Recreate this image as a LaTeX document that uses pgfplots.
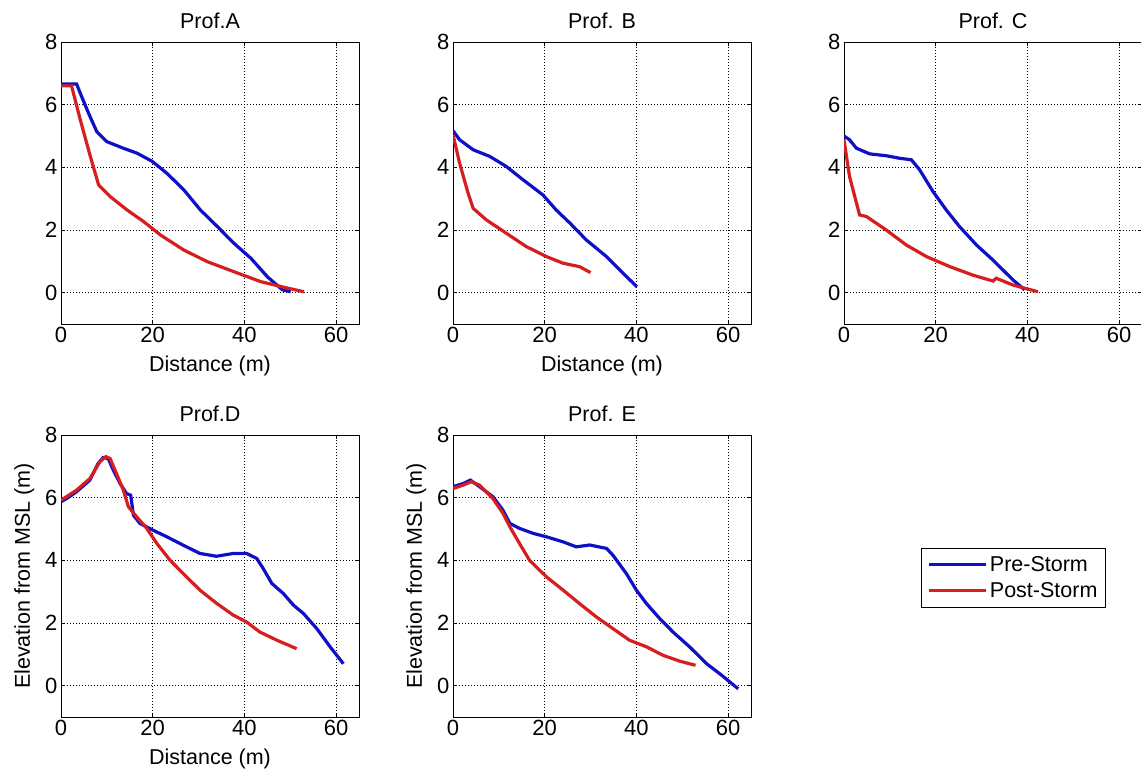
\documentclass[border=0pt]{standalone}
\usepackage{fontspec}
\setmainfont{Liberation Sans}
\usepackage{pgfplots}
\pgfplotsset{compat=1.18}
\definecolor{preblue}{RGB}{15,15,200}
\definecolor{postred}{RGB}{215,30,30}
\newcommand\fs{\fontsize{21.5pt}{25pt}\selectfont}
\newcommand\ft{\fontsize{22pt}{26pt}\selectfont}
\pgfplotsset{
  prof/.style={
    scale only axis, width=298pt, height=282pt, anchor=south west,
    xmin=0, xmax=65, ymin=-1, ymax=8,
    xtick={0,20,40,60}, ytick={0,2,4,6,8},
    tick align=inside, major tick length=4pt,
    grid=major,
    major grid style={black, line width=0.6pt, dash pattern=on 0.8pt off 2.2pt},
    axis line style={line width=0.8pt},
    every tick/.style={black, line width=0.6pt},
    ticklabel style={font=\ft},
    /pgf/number format/assume math mode=true,
    label style={font=\fs},
    xlabel style={yshift=-6pt},
    ylabel style={yshift=4pt},
    title style={font=\fs, yshift=4pt},
  },
  pre/.style={preblue, line width=3.2pt},
  post/.style={postred, line width=3.2pt},
}
\begin{document}
\begin{tikzpicture}
\useasboundingbox (0,0) rectangle (1141pt,774pt);
\clip (0,0) rectangle (1141pt,774pt);

% Prof. A
\begin{axis}[prof, at={(61pt,450pt)}, title={Prof.A}, xlabel={Distance (m)}]
\addplot[pre] coordinates {(0,6.66) (3.4,6.66) (4.5,6.26) (6,5.73) (7.8,5.14) (10,4.82) (13.6,4.61) (16.6,4.45) (19.9,4.19) (23.1,3.81) (26.8,3.28) (30.4,2.64) (34.1,2.11) (37.7,1.58) (41.4,1.10) (45,0.51) (48.3,0.09) (50.1,0.03)};
\addplot[post] coordinates {(0,6.6) (2.3,6.6) (4.2,5.52) (6.4,4.35) (8.2,3.44) (10.7,3.07) (14.4,2.64) (18,2.27) (21.7,1.84) (26.8,1.36) (31.9,0.99) (37.7,0.67) (43.6,0.35) (48.7,0.17) (53,0.03)};
\end{axis}

% Prof. B
\begin{axis}[prof, at={(453pt,450pt)}, title={Prof. B}, xlabel={Distance (m)}]
\addplot[pre] coordinates {(0,5.17) (1.45,4.88) (4.4,4.56) (8,4.35) (11.6,4.03) (15.3,3.6) (19.6,3.12) (22.5,2.64) (25.5,2.22) (29.1,1.68) (33.5,1.15) (37.1,0.62) (40.1,0.19)};
\addplot[post] coordinates {(0,5.04) (1.45,4.13) (3.3,3.17) (4.4,2.69) (7.3,2.32) (11.6,1.9) (16,1.47) (20.4,1.15) (24,0.94) (27.6,0.83) (30,0.64)};
\end{axis}

% Prof. C
\begin{axis}[prof, at={(844pt,450pt)}, title={Prof. C}]
\addplot[pre] coordinates {(0,5.0) (1.2,4.88) (2.7,4.61) (5.6,4.43) (9.2,4.37) (12.1,4.29) (14.7,4.24) (16.5,3.92) (19.4,3.23) (22.3,2.64) (25.2,2.11) (28.9,1.52) (32.5,1.04) (36.9,0.40) (39.4,0.09)};
\addplot[post] coordinates {(0,4.88) (1.2,3.71) (3.4,2.48) (4.9,2.43) (9.2,2.0) (13.6,1.52) (18,1.15) (23.1,0.83) (28.1,0.56) (32.5,0.37) (33.2,0.46) (36.9,0.24) (42.3,0.03)};
\end{axis}

% Prof. D
\begin{axis}[prof, at={(61pt,57pt)}, title={Prof.D}, xlabel={Distance (m)}, ylabel={Elevation from MSL (m)}]
\addplot[pre] coordinates {(0,5.87) (1.2,5.97) (3.4,6.19) (6.3,6.56) (8.1,7.09) (9.2,7.28) (10.3,7.25) (11.4,6.88) (12.9,6.45) (14.3,6.13) (15.2,6.08) (15.8,5.44) (17.2,5.18) (20.1,4.96) (23.1,4.75) (26.7,4.48) (30.3,4.22) (33.9,4.13) (37.6,4.22) (40.5,4.22) (42.7,4.06) (44.1,3.74) (46,3.26) (48.5,2.94) (50.7,2.57) (52.9,2.3) (55.8,1.82) (58.7,1.24) (61.6,0.70)};
\addplot[post] coordinates {(0,5.92) (3.4,6.24) (6.3,6.61) (8.5,7.15) (9.8,7.31) (10.7,7.25) (12.1,6.77) (13.6,6.24) (14.7,5.71) (16.5,5.39) (18.7,5.02) (20.9,4.54) (23.8,4.0) (27.4,3.47) (30.3,3.05) (34,2.62) (37.6,2.25) (40.5,2.03) (43.4,1.71) (47.1,1.45) (51.4,1.18)};
\end{axis}

% Prof. E
\begin{axis}[prof, at={(453pt,57pt)}, title={Prof. E}, ylabel={Elevation from MSL (m)},
  legend style={at={(1.572,0.60)}, anchor=north west, font=\fs, draw=black, line width=0.6pt,
    inner xsep=6pt, inner ysep=6pt, row sep=6pt, cells={anchor=west}},
  legend image code/.code={\draw[#1] (0pt,0pt) -- (57pt,0pt);}]
\addplot[pre] coordinates {(0,6.35) (2.2,6.45) (3.8,6.56) (5.8,6.35) (8.7,6.03) (10.9,5.6) (12.4,5.18) (14.5,5.02) (17.5,4.86) (20.4,4.75) (24,4.59) (26.9,4.43) (29.8,4.49) (33.5,4.38) (34.9,4.16) (37.8,3.58) (40,3.05) (42.2,2.62) (45.1,2.14) (48,1.71) (51.6,1.24) (55.3,0.70) (58.2,0.38) (62.2,-0.10)};
\addlegendentry{Pre-Storm}
\addplot[post] coordinates {(0,6.29) (2.2,6.40) (4,6.51) (5.8,6.4) (8.7,5.97) (10.9,5.5) (12.4,5.07) (14.5,4.54) (16.7,4.0) (20.4,3.47) (24,3.05) (27.6,2.62) (31.3,2.19) (34.9,1.82) (38.5,1.45) (42.2,1.24) (45.8,0.97) (49.5,0.78) (52.9,0.65)};
\addlegendentry{Post-Storm}
\end{axis}
\end{tikzpicture}
\end{document}
